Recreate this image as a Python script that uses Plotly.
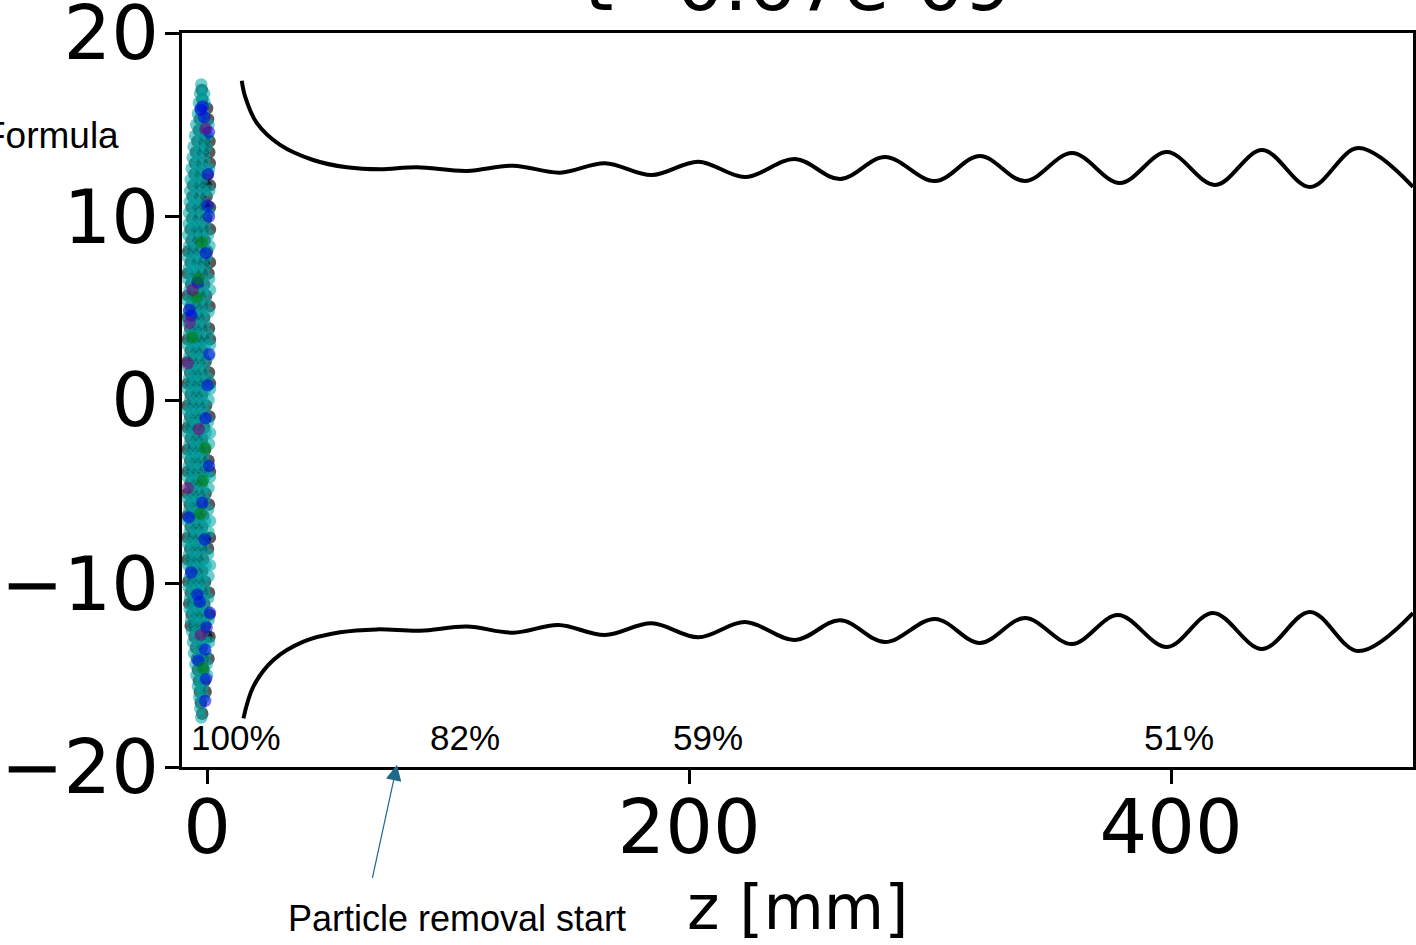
import plotly.graph_objects as go

# ---------------- data ----------------
x_ticks = [0, 200, 400]
y_ticks = [-20, -10, 0, 10, 20]
y_tick_text = ["\u221220", "\u221210", "0", "10", "20"]
title_text = "t=0.67e-09"

# upper beam envelope (z [mm], r [mm])
upper_z = [14.4, 15.8, 20.6, 30.3, 44.0, 58.0, 71.8, 87.0, 107.8, 127.0, 146.5, 165.1,
           184.5, 203.9, 223.2, 244.0, 262.7, 281.3, 302.1, 320.7, 339.4, 358.9, 378.8,
           398.3, 418.3, 437.8, 457.7, 477.6, 500.4]
upper_r = [17.40, 16.53, 15.10, 13.90, 13.08, 12.68, 12.57, 12.68, 12.48, 12.77, 12.39, 12.90,
           12.26, 12.99, 12.15, 13.13, 12.04, 13.24, 11.93, 13.30, 11.93, 13.46, 11.83,
           13.51, 11.72, 13.62, 11.61, 13.73, 11.61]

# lower beam envelope
lower_z = [15.1, 19.2, 27.5, 40.0, 55.2, 70.4, 88.4, 107.8, 127.1, 145.8, 165.1, 184.5,
           203.9, 223.2, 244.0, 262.7, 281.3, 302.1, 320.7, 339.4, 358.9, 378.0, 398.3,
           417.4, 437.8, 457.7, 477.6, 500.4]
lower_r = [-17.35, -15.62, -14.17, -13.17, -12.66, -12.50, -12.57, -12.35, -12.68, -12.26,
           -12.81, -12.17, -12.93, -12.10, -13.08, -12.00, -13.19, -11.93, -13.24, -11.88,
           -13.30, -11.72, -13.46, -11.61, -13.57, -11.55, -13.68, -11.61]

# macro-particles: rows of (r, [z, ...])
cyan_rows = [
    (17.2, [-2.4]), (16.7, [-2.9, -1.2]), (16.2, [-3.4, -1.0]), (15.6, [-3.8, -1.6]),
    (15.0, [-4.5, -2.0, 0.6]), (14.4, [-5.0, -2.6, 0.2]), (13.8, [-5.6, -3.0, -0.4]),
    (13.2, [-6.0, -3.6, -1.0]), (12.6, [-6.4, -4.0, -1.4, 0.8]), (12.0, [-6.8, -4.6, -2.0]),
    (11.4, [-7.0, -4.4, -1.6, 0.9]), (10.8, [-7.2, -5.2, -2.6]), (10.2, [-7.5, -4.8, -2.0, 0.6]),
    (9.6, [-7.6, -5.6, -3.2, -0.8]), (9.0, [-7.8, -5.0, -2.4, 0.4]), (8.4, [-7.4, -4.6, -1.6, 1.0]),
    (7.8, [-8.0, -5.4, -3.0, -0.2]), (7.2, [-7.6, -6.0, -3.6, -1.0]), (6.6, [-8.0, -5.2, -2.6, 0.8]),
    (6.0, [-7.2, -4.4, -1.8, 1.2]), (5.4, [-8.0, -5.6, -3.2, -0.6]), (4.8, [-7.6, -4.8, -2.2, 0.6]),
    (4.2, [-8.0, -6.2, -3.8, -1.0]), (3.6, [-7.4, -5.0, -2.8, 0.4]),
    (3.0, [-8.0, -5.8, -3.4, -0.8, 1.2]), (2.4, [-7.2, -4.6, -2.0, 0.6]),
    (1.8, [-8.0, -6.0, -3.6, -1.2]), (1.2, [-7.4, -5.2, -2.6, 0.2]),
    (0.6, [-8.0, -5.8, -3.2, -0.8, 1.2]), (0.0, [-7.0, -4.6, -2.0, 0.6]),
    (-0.6, [-8.0, -6.0, -3.6, -1.2]), (-1.2, [-7.4, -5.0, -2.6, 0.4]),
    (-1.8, [-8.0, -5.8, -3.2, -0.6, 1.2]), (-2.4, [-7.2, -4.6, -2.2, 0.8]),
    (-3.0, [-8.0, -6.0, -3.8, -1.4]), (-3.6, [-7.6, -5.2, -2.8, 0.2]),
    (-4.2, [-8.0, -5.8, -3.4, -1.0, 1.2]), (-4.8, [-7.0, -4.6, -2.0, 0.6]),
    (-5.4, [-8.0, -6.0, -3.6, -1.2]), (-6.0, [-7.4, -5.2, -2.8, 0.4]),
    (-6.6, [-8.0, -5.8, -3.4, -0.8, 1.2]), (-7.2, [-7.2, -4.6, -2.2, 0.6]),
    (-7.8, [-8.0, -6.0, -3.6, -1.2]), (-8.4, [-7.4, -5.2, -2.8, 0.4]),
    (-9.0, [-7.8, -5.6, -3.2, -0.6, 1.2]), (-9.6, [-7.0, -4.6, -2.2, 0.6]),
    (-10.2, [-7.6, -5.6, -3.4, -1.0]), (-10.8, [-7.0, -4.8, -2.4, 0.4]),
    (-11.4, [-7.2, -5.4, -3.0, -0.6]), (-12.0, [-6.6, -4.4, -2.0, 0.6]),
    (-12.6, [-6.2, -4.0, -1.6]), (-13.2, [-5.8, -3.4, -1.0, 0.8]),
    (-13.8, [-5.4, -3.0, -0.6]), (-14.4, [-4.8, -2.6, -0.2]), (-15.0, [-4.4, -2.2, 0.0]),
    (-15.6, [-3.8, -1.8]), (-16.2, [-3.2, -1.4]), (-16.8, [-2.8]), (-17.3, [-2.4]),
]
black_rows = [
    (16.9, [-2.2]), (16.4, [-2.0]), (15.9, [-2.6, 0.0]), (15.3, [-3.0, 0.4]),
    (14.7, [-3.4, -0.8]), (14.1, [-4.0, -1.2, 1.0]), (13.5, [-4.6, -1.8, 0.9]),
    (12.9, [-5.0, -2.2, 1.1]), (12.3, [-5.2, -2.8, 0.2]), (11.7, [-5.8, -3.2, -0.6, 1.2]),
    (11.1, [-6.0, -3.0, -0.2]), (10.5, [-6.4, -3.8, -1.2, 1.2]), (9.9, [-6.2, -3.4, -0.4]),
    (9.3, [-6.8, -4.2, -1.8, 1.2]), (8.7, [-6.4, -3.6, -1.0]), (8.1, [-7.8, -5.8, -2.8, 0.0]),
    (7.5, [-6.8, -4.0, -1.4, 1.2]), (6.9, [-8.0, -4.8, -2.2, 0.6]), (6.3, [-6.6, -3.8, -1.2]),
    (5.7, [-8.0, -5.8, -3.0, -0.4]), (5.1, [-6.8, -4.4, -2.0, 1.0]),
    (4.5, [-8.0, -6.0, -3.6, -1.2]), (3.9, [-7.0, -4.8, -2.4, 0.8]),
    (3.3, [-8.0, -6.0, -3.6, -1.4, 1.2]), (2.7, [-6.8, -4.4, -2.0]),
    (2.1, [-8.0, -5.8, -3.2, -0.6]), (1.5, [-7.0, -4.8, -2.4, 0.8]),
    (0.9, [-8.0, -6.2, -3.8, -1.4, 1.2]), (0.3, [-6.8, -4.4, -2.0]),
    (-0.3, [-8.0, -5.6, -3.2, -0.4]), (-0.9, [-7.0, -4.8, -2.4, 1.0]),
    (-1.5, [-8.0, -6.2, -3.8, -1.2]), (-2.1, [-6.8, -4.4, -2.0]),
    (-2.7, [-8.0, -5.8, -3.4, -0.8]), (-3.3, [-7.0, -4.8, -2.4, 0.6]),
    (-3.9, [-8.0, -6.2, -4.0, -1.6, 1.2]), (-4.5, [-6.8, -4.4, -2.2]),
    (-5.1, [-8.0, -5.8, -3.2, -0.6]), (-5.7, [-7.2, -4.8, -2.4, 0.8]),
    (-6.3, [-8.0, -6.2, -4.0, -1.6]), (-6.9, [-6.8, -4.4, -2.0]),
    (-7.5, [-8.0, -5.8, -3.4, -0.8, 1.2]), (-8.1, [-7.0, -4.8, -2.4, 0.4]),
    (-8.7, [-8.0, -6.2, -4.0, -1.6]), (-9.3, [-6.6, -4.4, -2.0]),
    (-9.9, [-7.8, -5.8, -3.4, -0.8]), (-10.5, [-6.8, -4.6, -2.2, 0.8]),
    (-11.1, [-7.4, -5.8, -3.6, -1.2]), (-11.7, [-6.4, -4.2, -1.8, 1.0]),
    (-12.3, [-6.8, -5.2, -3.0, -0.8]), (-12.9, [-5.2, -2.8, -0.2, 1.0]),
    (-13.5, [-4.6, -2.2]), (-14.1, [-4.2, -1.8, 0.6]), (-14.7, [-3.8, -1.4]),
    (-15.3, [-3.4, -1.0]), (-15.9, [-3.0, -0.6]), (-16.5, [-2.6]), (-17.1, [-2.0]),
]
blue_z = [-1.8, -1.2, -2.6, 0.8, 0.4, 0.8, -0.5, -6.5, -7.4, 0.9, 0.2, -0.6, 0.8, -2.0,
          -7.6, -1.0, -6.6, -4.0, -3.0, 1.2, -0.2, -0.8, -3.6, -0.4, -0.8, -4.0, 0.2]
blue_r = [16.0, 15.4, 15.8, 14.6, 12.3, 10.0, 8.0, 4.6, 4.9, 2.5, 0.8, -1.0, -3.6, -5.6,
          -6.4, -7.6, -9.4, -10.6, -11.0, -11.6, -12.4, -13.6, -14.2, -15.2, -16.4, 6.4, 10.6]
green_z = [-2.2, -3.6, -4.4, -6.0, -0.8, -1.8, -2.8, -1.8]
green_r = [8.6, 6.6, 5.6, 3.4, -2.6, -4.4, -6.2, -14.6]
purple_z = [-0.6, -6.0, -7.2, -8.0, -3.4, -8.0, -2.6]
purple_r = [14.8, 6.0, 4.2, 2.0, -1.6, -4.8, -12.8]

pct_labels = ["100%", "82%", "59%", "51%"]
pct_z = [12.0, 107.1, 207.7, 403.5]
pct_r = -18.39

removal_start_z = 78.8


def flatten(rows):
    zs, rs = [], []
    for r, zl in rows:
        for z in zl:
            zs.append(z)
            rs.append(r)
    return zs, rs


black_z, black_r = flatten(black_rows)
cyan_z, cyan_r = flatten(cyan_rows)

fig = go.Figure()

groups = [
    (black_z, black_r, "rgba(0,0,0,0.65)"),
    (cyan_z, cyan_r, "rgba(0,170,170,0.58)"),
    (blue_z, blue_r, "rgba(0,0,235,0.55)"),
    (green_z, green_r, "rgba(0,128,0,0.55)"),
    (purple_z, purple_r, "rgba(128,0,128,0.55)"),
]
for gz, gr, col in groups:
    fig.add_trace(go.Scatter(x=gz, y=gr, mode="markers",
                             marker=dict(size=12.5, color=col, line=dict(width=0)),
                             hoverinfo="skip"))

for ez, er in [(upper_z, upper_r), (lower_z, lower_r)]:
    fig.add_trace(go.Scatter(x=ez, y=er, mode="lines",
                             line=dict(color="black", width=4, shape="spline", smoothing=1.0),
                             hoverinfo="skip"))

tick_font = dict(family="DejaVu Sans", size=75, color="black")
axis_common = dict(showline=True, linewidth=3, linecolor="black", mirror=True,
                   ticks="outside", ticklen=14, tickwidth=3, tickcolor="black",
                   showgrid=False, zeroline=False, tickfont=tick_font,
                   automargin=False, ticklabeloverflow="allow")

fig.update_layout(
    width=1416, height=945,
    margin=dict(l=182, r=3, t=33, b=178, pad=0),
    paper_bgcolor="white", plot_bgcolor="white",
    showlegend=False,
    xaxis=dict(range=[-10.4, 500.4], tickvals=x_ticks, ticklabelstandoff=-21, **axis_common),
    yaxis=dict(range=[-20, 20], tickvals=y_ticks, ticktext=y_tick_text,
               ticklabelstandoff=-9, **axis_common),
)

annotations = []
# title (cut off at the top edge)
annotations.append(dict(text=title_text, xref="paper", yref="paper", x=0.5, y=1.0035,
                        xanchor="center", yanchor="bottom", showarrow=False,
                        font=dict(family="DejaVu Sans", size=75, color="black")))
# Formula label
annotations.append(dict(text="Formula", xref="paper", yref="paper", x=-0.0496, y=0.861,
                        xanchor="right", yanchor="middle", showarrow=False,
                        font=dict(family="Liberation Sans, Arial", size=37, color="black")))
# percentages
for lab, pz in zip(pct_labels, pct_z):
    annotations.append(dict(text=lab, xref="x", yref="y", x=pz, y=pct_r,
                            xanchor="center", yanchor="middle", showarrow=False,
                            font=dict(family="Liberation Sans, Arial", size=35, color="black")))
# arrow
annotations.append(dict(text=" ", xref="x", yref="paper", x=removal_start_z, y=0.003,
                        showarrow=True, ax=-25, ay=115, arrowhead=2, arrowsize=2.6,
                        arrowwidth=1.2, arrowcolor="#1d6a88", standoff=0, startstandoff=0,
                        font=dict(size=1)))
annotations.append(dict(text="Particle removal start", xref="paper", yref="paper",
                        x=(456.5 - 182) / 1231, y=(767 - 918) / 734,
                        xanchor="center", yanchor="middle", showarrow=False,
                        font=dict(family="Liberation Sans, Arial", size=36, color="black")))
# x axis title
annotations.append(dict(text="z [mm]", xref="paper", yref="paper", x=0.5, y=(767 - 907) / 734,
                        xanchor="center", yanchor="middle", showarrow=False,
                        font=dict(family="DejaVu Sans", size=62, color="black")))
fig.update_layout(annotations=annotations)

fig.write_html("out.html", config={"displayModeBar": False},
               post_script="document.body.style.margin='0';")
